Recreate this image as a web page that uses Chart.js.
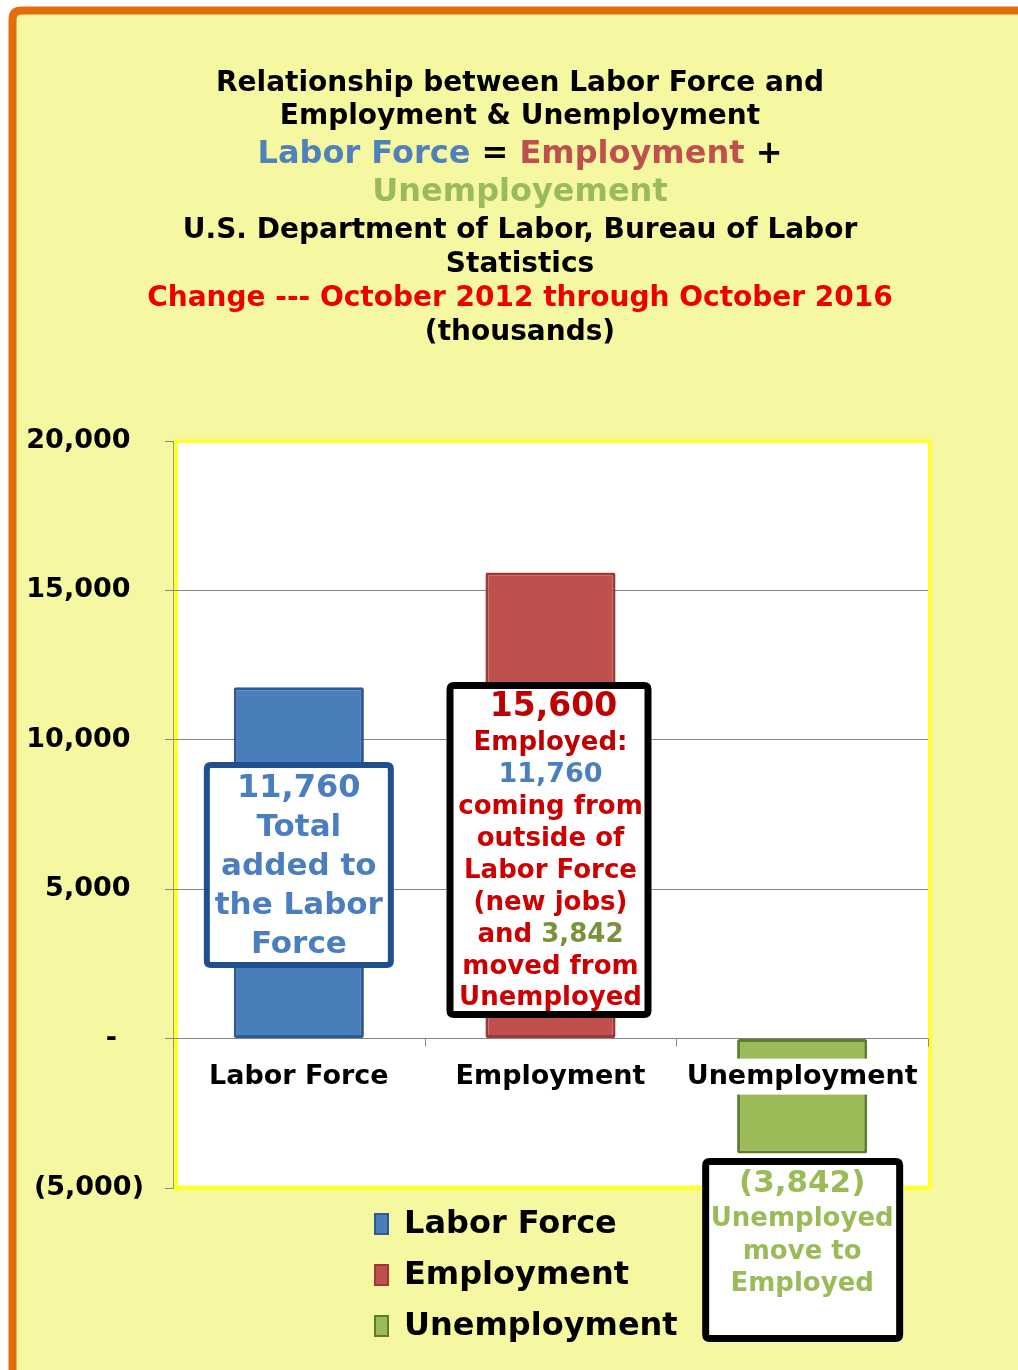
<!DOCTYPE html>
<html>
<head>
<meta charset="utf-8">
<script src="https://cdn.jsdelivr.net/npm/chart.js@4.4.1/dist/chart.umd.min.js"></script>
<style>
  html, body { margin: 0; padding: 0; background: #ffffff; overflow: hidden; }
  canvas { display: block; }
</style>
</head>
<body>
<canvas id="c" width="1018" height="1370" style="width:1018px;height:1370px"></canvas>
<script>
// ---------------- DATA ----------------
const categories = ['Labor Force', 'Employment', 'Unemployment'];
const changeValues = [11760, 15600, -3842];           // thousands, Oct 2012 -> Oct 2016
const yTickValues = [-5000, 0, 5000, 10000, 15000, 20000];
const yTickLabels = ['(5,000)', '-', '5,000', '10,000', '15,000', '20,000'];
const barColors = ['#4a7ebb', '#c0504d', '#9bbb59'];
const barBorders = ['#2c5a94', '#9c3936', '#5f7d2a'];

const FONT = '"DejaVu Sans", Verdana, sans-serif';
const W = 1018, H = 1370;
const fmt = v => Math.abs(v).toLocaleString('en-US');

function font(size) { return 'bold ' + size + 'px ' + FONT; }

function drawLine(ctx, cx, y, size, segs) {
  ctx.font = font(size);
  ctx.textBaseline = 'middle';
  ctx.textAlign = 'left';
  let total = 0;
  segs.forEach(s => total += ctx.measureText(s[0]).width);
  let x = cx - total / 2;
  segs.forEach(s => {
    ctx.fillStyle = s[1];
    ctx.fillText(s[0], x, y);
    x += ctx.measureText(s[0]).width;
  });
}

function roundRectPath(ctx, x, y, w, h, r) {
  ctx.beginPath();
  ctx.moveTo(x + r, y);
  ctx.lineTo(x + w - r, y);
  ctx.quadraticCurveTo(x + w, y, x + w, y + r);
  ctx.lineTo(x + w, y + h - r);
  ctx.quadraticCurveTo(x + w, y + h, x + w - r, y + h);
  ctx.lineTo(x + r, y + h);
  ctx.quadraticCurveTo(x, y + h, x, y + h - r);
  ctx.lineTo(x, y + r);
  ctx.quadraticCurveTo(x, y, x + r, y);
  ctx.closePath();
}

function box(ctx, x1, y1, x2, y2, lw, color) {
  ctx.fillStyle = '#ffffff';
  roundRectPath(ctx, x1, y1, x2 - x1, y2 - y1, 5);
  ctx.fill();
  ctx.lineWidth = lw;
  ctx.strokeStyle = color;
  roundRectPath(ctx, x1 + lw / 2, y1 + lw / 2, x2 - x1 - lw, y2 - y1 - lw, 4);
  ctx.stroke();
}

const BLUE_T = '#4a7ebf', RED_T = '#cc0000', DRED = '#c00000', GREEN_T = '#9bbb59', DGREEN = '#77933c';

const chartPlugin = {
  id: 'customDraw',
  beforeDraw(chart) {
    const ctx = chart.ctx, a = chart.chartArea;
    ctx.save();
    ctx.fillStyle = '#ffffff';
    ctx.fillRect(0, 0, W, H);
    // page background with orange frame
    roundRectPath(ctx, 12.5, 10.5, W + 40, H + 40, 9);
    ctx.fillStyle = '#f5f7a1';
    ctx.fill();
    ctx.lineWidth = 8;
    ctx.strokeStyle = '#e46c0a';
    ctx.stroke();
    // plot area
    ctx.fillStyle = '#ffffff';
    ctx.fillRect(a.left, a.top, a.right - a.left, a.bottom - a.top);
    ctx.strokeStyle = '#ffff33';
    ctx.lineWidth = 4;
    ctx.strokeRect(a.left + 3, a.top, a.right - a.left - 1, a.bottom - a.top);
    ctx.lineWidth = 5;
    ctx.beginPath(); ctx.moveTo(a.left, a.bottom); ctx.lineTo(a.right + 1, a.bottom); ctx.stroke();

    // Titles
    const cx = 520;
    drawLine(ctx, cx, 84, 28, [['Relationship between Labor Force and', '#000']]);
    drawLine(ctx, cx, 117, 28, [['Employment & Unemployment', '#000']]);
    drawLine(ctx, cx, 155, 32, [['Labor Force', '#4f81bd'], [' = ', '#000'], ['Employment', '#c0504d'], [' +', '#000']]);
    drawLine(ctx, cx, 193, 32, [['Unemployement', '#9bbb59']]);
    drawLine(ctx, cx, 231, 28, [['U.S. Department of Labor, Bureau of Labor', '#000']]);
    drawLine(ctx, cx, 265, 28, [['Statistics', '#000']]);
    drawLine(ctx, cx, 299, 28, [['Change --- October 2012 through October 2016', '#ee0000']]);
    drawLine(ctx, cx, 333, 28, [['(thousands)', '#000']]);

    // Legend
    const legY = [1224, 1275, 1326];
    categories.forEach((c, i) => {
      const y = legY[i];
      ctx.fillStyle = barBorders[i];
      ctx.fillRect(374, y - 11, 15, 22);
      ctx.fillStyle = barColors[i];
      ctx.fillRect(376, y - 9, 11, 18);
      ctx.font = font(32);
      ctx.textAlign = 'left';
      ctx.textBaseline = 'middle';
      ctx.fillStyle = '#000';
      ctx.fillText(c, 404, y + 1);
    });
    ctx.restore();
  },
  afterDatasetsDraw(chart) {
    const ctx = chart.ctx;
    const xs = chart.scales.x, ys = chart.scales.y;
    const y0 = ys.getPixelForValue(0);
    ctx.save();
    // category boundary tick marks on the zero axis
    ctx.strokeStyle = '#888';
    ctx.lineWidth = 1;
    for (let i = 0; i <= categories.length; i++) {
      const x = Math.round(xs.getPixelForValue(i - 0.5)) + 0.5;
      ctx.beginPath(); ctx.moveTo(x, y0); ctx.lineTo(x, y0 + 8); ctx.stroke();
    }
    // category labels just under the zero line
    ctx.font = font(27);
    ctx.textAlign = 'center';
    ctx.textBaseline = 'middle';
    categories.forEach((c, i) => {
      const x = xs.getPixelForValue(i);
      const w = ctx.measureText(c).width;
      ctx.fillStyle = '#ffffff';
      ctx.fillRect(x - w / 2 - 3, y0 + 20, w + 6, 36);
      ctx.fillStyle = '#000';
      ctx.fillText(c, x, y0 + 38);
    });

    // Annotation boxes
    const c0 = xs.getPixelForValue(0), c1 = xs.getPixelForValue(1), c2 = xs.getPixelForValue(2);
    // Labor Force box
    box(ctx, c0 - 95, 762, c0 + 95, 968, 6, '#1f4f8f');
    drawLine(ctx, c0, 789, 32, [[fmt(changeValues[0]), BLUE_T]]);
    drawLine(ctx, c0, 828, 31, [['Total', BLUE_T]]);
    drawLine(ctx, c0, 867, 31, [['added to', BLUE_T]]);
    drawLine(ctx, c0, 906, 31, [['the Labor', BLUE_T]]);
    drawLine(ctx, c0, 945, 31, [['Force', BLUE_T]]);
    // Employment box
    box(ctx, c1 - 104, 682, c1 + 101, 1018, 7, '#000');
    drawLine(ctx, c1 + 3, 707, 33, [[fmt(changeValues[1]), DRED]]);
    drawLine(ctx, c1, 743, 26, [['Employed:', DRED]]);
    drawLine(ctx, c1, 775, 27, [[fmt(changeValues[0]), BLUE_T]]);
    drawLine(ctx, c1, 807, 26, [['coming from', RED_T]]);
    drawLine(ctx, c1, 839, 26, [['outside of', RED_T]]);
    drawLine(ctx, c1, 871, 26, [['Labor Force', RED_T]]);
    drawLine(ctx, c1, 903, 26, [['(new jobs)', RED_T]]);
    drawLine(ctx, c1, 935, 26, [['and ', RED_T], [fmt(changeValues[2]), DGREEN]]);
    drawLine(ctx, c1, 967, 26, [['moved from', RED_T]]);
    drawLine(ctx, c1, 998, 26, [['Unemployed', RED_T]]);
    // Unemployment box
    box(ctx, c2 - 100, 1158, c2 + 101, 1342, 7, '#000');
    drawLine(ctx, c2, 1184, 31, [['(' + fmt(changeValues[2]) + ')', GREEN_T]]);
    drawLine(ctx, c2, 1219, 26, [['Unemployed', GREEN_T]]);
    drawLine(ctx, c2, 1252, 26, [['move to', GREEN_T]]);
    drawLine(ctx, c2, 1284, 26, [['Employed', GREEN_T]]);
    ctx.restore();
  }
};

new Chart(document.getElementById('c'), {
  type: 'bar',
  data: {
    labels: categories,
    datasets: [{
      label: 'Change (thousands)',
      data: changeValues,
      backgroundColor: barColors,
      borderColor: barBorders,
      borderWidth: 3,
      borderSkipped: false,
      borderRadius: 2,
      barPercentage: 0.517,
      categoryPercentage: 1.0
    }]
  },
  options: {
    responsive: false,
    devicePixelRatio: 1,
    animation: false,
    layout: { padding: { left: 0, top: 441, right: 90, bottom: 182 } },
    plugins: {
      legend: { display: false },
      title: { display: false },
      tooltip: { enabled: false }
    },
    scales: {
      x: { display: false },
      y: {
        min: -5000,
        max: 20000,
        afterFit(scale) { scale.width = 173; },
        afterBuildTicks(scale) { scale.ticks = yTickValues.map(v => ({ value: v })); },
        ticks: {
          padding: 21,
          color: '#000',
          font: { family: FONT, size: 27, weight: 'bold' },
          callback(value) {
            const i = yTickValues.indexOf(value);
            const lbl = i >= 0 ? yTickLabels[i] : '';
            if (lbl.startsWith('(')) return lbl;
            if (lbl === '-') return lbl + '\u2003';
            return lbl + '\u2002';
          }
        },
        grid: {
          color(ctx) {
            const v = ctx.tick && ctx.tick.value;
            return (v === 20000 || v === -5000) ? 'rgba(0,0,0,0)' : '#858585';
          },
          tickColor: '#858585',
          tickLength: 8,
          lineWidth: 1
        },
        border: { display: true, color: '#a0a060', width: 1 }
      }
    }
  },
  plugins: [chartPlugin]
});
</script>
</body>
</html>
